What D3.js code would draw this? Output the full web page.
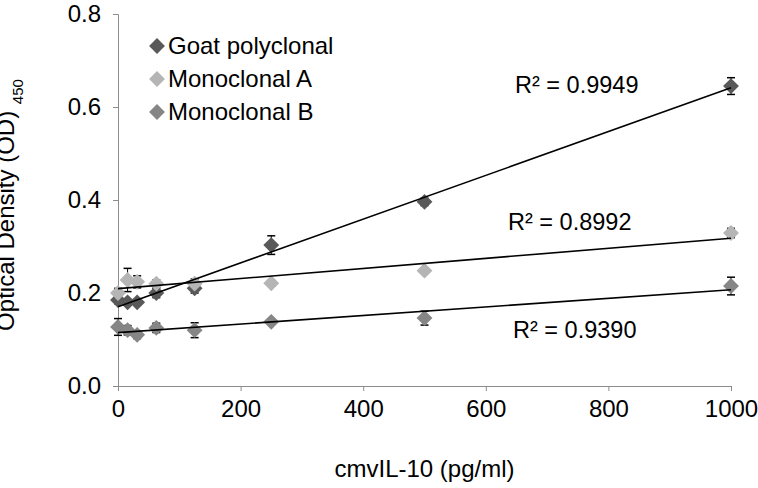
<!DOCTYPE html>
<html>
<head>
<meta charset="utf-8">
<script src="https://cdn.jsdelivr.net/npm/d3@7"></script>
<style>
  body { margin: 0; background: #fff; }
  svg { font-family: "Liberation Sans", Arial, sans-serif; }
</style>
</head>
<body>
<div id="graph"></div>
<script>
// cmvIL-10 standard (pg/ml)
const concentrations = [0, 15.625, 31.25, 62.5, 125, 250, 500, 1000];

const seriesNames = ["Goat polyclonal", "Monoclonal A", "Monoclonal B"];
const goatOD = [0.185, 0.18, 0.18, 0.2, 0.21, 0.303, 0.396, 0.645];
const goatErr = [0.008, 0.006, 0.006, 0.01, 0.01, 0.02, 0.008, 0.018];
const monoAOD = [0.2, 0.228, 0.224, 0.22, 0.22, 0.221, 0.248, 0.329];
const monoAErr = [0.01, 0.025, 0.013, 0.008, 0.01, 0.006, 0.005, 0.01];
const monoBOD = [0.127, 0.12, 0.11, 0.125, 0.12, 0.138, 0.146, 0.215];
const monoBErr = [0.018, 0.01, 0.008, 0.01, 0.016, 0.005, 0.015, 0.019];
const rSquared = ["0.9949", "0.8992", "0.9390"];

const xTicks = [0, 200, 400, 600, 800, 1000];
const yTicks = [0, 0.2, 0.4, 0.6, 0.8];

const colors = ["#595959", "#b5b5b5", "#868686"];
// where the R² labels sit (pixel anchors, left / baseline)
const rLabelPos = [[515, 93], [508, 230], [513, 338]];

const svgWidth = 758;
const svgHeight = 488;
const margin = {top: 14, bottom: 102, left: 118, right: 27};
const width = svgWidth - margin.left - margin.right;
const height = svgHeight - margin.top - margin.bottom;

const svg = d3.select('#graph')
  .append('svg')
  .attr('width', svgWidth)
  .attr('height', svgHeight);

const g = svg.append('g')
  .attr('transform', `translate(${margin.left},${margin.top})`);

const x = d3.scaleLinear().domain([0, 1000]).range([0, width]);
const y = d3.scaleLinear().domain([0, 0.8]).range([height, 0]);

// axes
const xAxis = g.append('g')
  .attr('transform', `translate(0,${height})`)
  .call(d3.axisBottom(x).tickValues(xTicks).tickSize(5).tickPadding(9).tickFormat(d3.format('d')));
const yAxis = g.append('g')
  .call(d3.axisLeft(y).tickValues(yTicks).tickSize(5).tickPadding(12).tickFormat(d3.format('.1f')));
[xAxis, yAxis].forEach(a => {
  a.selectAll('path, line').attr('stroke', '#8c8c8c');
  a.selectAll('text').attr('font-size', '24px').attr('fill', '#000')
    .style('font-family', '"Liberation Sans", Arial, sans-serif');
});

// series
const series = [goatOD, monoAOD, monoBOD].map((vals, i) => ({
  name: seriesNames[i],
  color: colors[i],
  points: concentrations.map((c, j) => ({x: c, y: vals[j], e: [goatErr, monoAErr, monoBErr][i][j]}))
}));

const diamond = d3.symbol().type(d3.symbolDiamond2).size(160);

// error bars
series.forEach(s => {
  const eb = g.append('g');
  s.points.forEach(p => {
    const cx = x(p.x);
    eb.append('line').attr('x1', cx).attr('x2', cx)
      .attr('y1', y(p.y + p.e)).attr('y2', y(p.y - p.e))
      .attr('stroke', '#000').attr('stroke-width', 1);
    [p.y + p.e, p.y - p.e].forEach(v => {
      eb.append('line').attr('x1', cx - 4).attr('x2', cx + 4)
        .attr('y1', y(v)).attr('y2', y(v))
        .attr('stroke', '#000').attr('stroke-width', 1.5);
    });
  });
});

// markers
series.forEach(s => {
  g.selectAll(null)
    .data(s.points)
    .enter()
    .append('path')
    .attr('d', diamond)
    .attr('transform', d => `translate(${x(d.x)},${y(d.y)})`)
    .attr('fill', s.color);
});

// linear trend lines (least squares)
function fit(points) {
  const mx = d3.mean(points, p => p.x);
  const my = d3.mean(points, p => p.y);
  const slope = d3.sum(points, p => (p.x - mx) * (p.y - my)) / d3.sum(points, p => (p.x - mx) ** 2);
  return {slope, intercept: my - slope * mx};
}
series.forEach(s => {
  const f = fit(s.points);
  g.append('line')
    .attr('x1', x(0)).attr('y1', y(f.intercept))
    .attr('x2', x(1000)).attr('y2', y(f.intercept + f.slope * 1000))
    .attr('stroke', '#000').attr('stroke-width', 1.6);
});

// R² labels
rSquared.forEach((r, i) => {
  svg.append('text')
    .attr('x', rLabelPos[i][0]).attr('y', rLabelPos[i][1])
    .attr('font-size', '23.5px')
    .text(`R² = ${r}`);
});

// legend
const legend = svg.append('g').attr('transform', 'translate(157,46)');
series.forEach((s, i) => {
  const row = legend.append('g').attr('transform', `translate(0,${i * 33})`);
  row.append('path').attr('d', diamond).attr('fill', s.color);
  row.append('text').attr('x', 11).attr('y', 8).attr('font-size', '24px').text(s.name);
});

// axis titles
svg.append('text')
  .attr('x', margin.left + width / 2).attr('y', 477)
  .attr('text-anchor', 'middle')
  .attr('font-size', '24px')
  .text('cmvIL-10 (pg/ml)');

const yTitle = svg.append('text')
  .attr('transform', 'translate(14,205) rotate(-90)')
  .attr('text-anchor', 'middle')
  .attr('font-size', '24px');
yTitle.append('tspan').text('Optical Density (OD) ');
yTitle.append('tspan').attr('font-size', '15px').attr('dy', 9).text('450');
</script>
</body>
</html>
